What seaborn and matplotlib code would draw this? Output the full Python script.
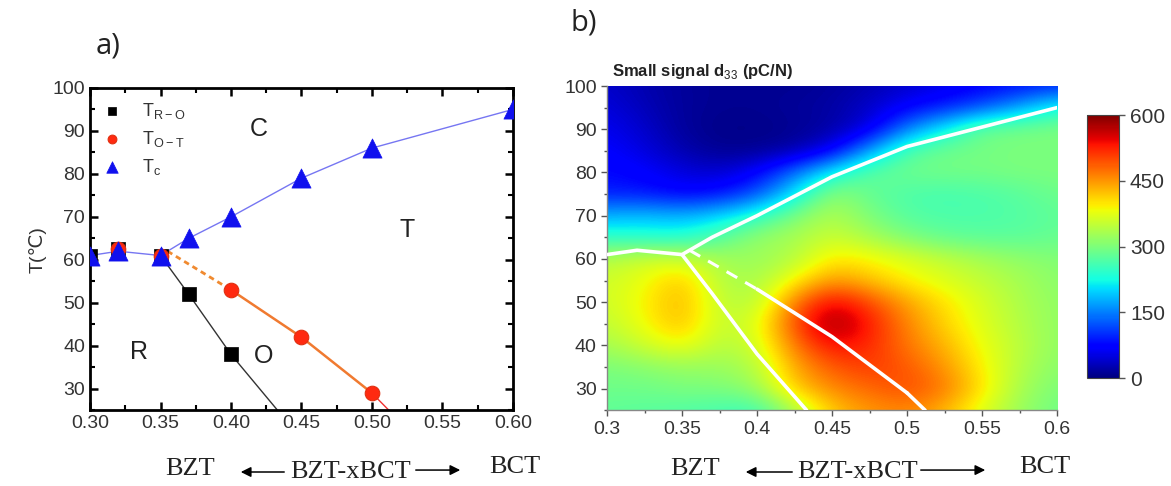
import numpy as np
import pandas as pd
import matplotlib
matplotlib.use("Agg")
import matplotlib.pyplot as plt
from matplotlib.ticker import MultipleLocator
import seaborn as sns

# ---------------- data: panel a (phase diagram) ----------------
x_tc = [0.30, 0.32, 0.35, 0.37, 0.40, 0.45, 0.50, 0.60]
t_tc = [61, 62, 61, 65, 70, 79, 86, 95]
x_ro = [0.30, 0.32, 0.35, 0.37, 0.40]
t_ro = [61, 62.5, 61, 52, 38]
x_ot = [0.32, 0.35, 0.40, 0.45, 0.50]
t_ot = [62.5, 61, 53, 42, 29]

# boundary lines
ro_line_x = [0.35, 0.37, 0.40, 0.433]
ro_line_t = [61, 52, 38, 25]
ot_dash_x = [0.355, 0.40]
ot_dash_t = [62, 53]
ot_solid_x = [0.40, 0.45, 0.50]
ot_solid_t = [53, 42, 29]
ot_tail_x = [0.50, 0.512]
ot_tail_t = [29, 25]

# ---------------- data: panel b (d33 map) ----------------
x_grid = [0.300, 0.325, 0.350, 0.375, 0.400, 0.425, 0.450, 0.475, 0.500, 0.525, 0.550, 0.575, 0.600]
t_grid = [25, 30, 35, 40, 45, 50, 55, 60, 65, 70, 75, 80, 85, 90, 95, 100]
d33_t25 = [280, 275, 270, 260, 250, 330, 420, 450, 460, 430, 370, 320, 290]
d33_t30 = [290, 290, 300, 300, 320, 420, 460, 480, 500, 470, 400, 330, 300]
d33_t35 = [300, 310, 320, 320, 340, 440, 490, 510, 490, 450, 390, 340, 310]
d33_t40 = [330, 360, 390, 340, 360, 470, 540, 520, 470, 430, 380, 345, 315]
d33_t45 = [350, 385, 430, 350, 370, 500, 595, 530, 460, 410, 370, 340, 315]
d33_t50 = [360, 390, 435, 350, 340, 470, 550, 500, 440, 400, 365, 335, 315]
d33_t55 = [360, 380, 425, 340, 330, 390, 450, 420, 390, 370, 350, 330, 310]
d33_t60 = [340, 360, 360, 330, 320, 340, 400, 390, 370, 350, 330, 315, 305]
d33_t65 = [240, 235, 230, 270, 320, 330, 360, 330, 300, 280, 275, 275, 285]
d33_t70 = [180, 190, 180, 200, 240, 300, 340, 300, 270, 265, 265, 270, 280]
d33_t75 = [90, 85, 70, 80, 120, 210, 320, 280, 265, 260, 265, 275, 290]
d33_t80 = [80, 70, 50, 40, 70, 140, 220, 280, 290, 295, 295, 300, 300]
d33_t85 = [70, 50, 25, 10, 10, 20, 60, 170, 270, 290, 295, 300, 300]
d33_t90 = [60, 40, 15, 5, 5, 10, 20, 50, 150, 220, 290, 295, 300]
d33_t95 = [50, 30, 15, 10, 10, 15, 20, 40, 70, 90, 120, 170, 230]
d33_t100 = [40, 25, 15, 10, 10, 10, 15, 25, 40, 55, 70, 80, 90]

cbar_ticks = [0, 150, 300, 450, 600]
xticks_a = [0.30, 0.35, 0.40, 0.45, 0.50, 0.55, 0.60]
xticklabels_b = ["0.3", "0.35", "0.4", "0.45", "0.5", "0.55", "0.6"]
yticks = [30, 40, 50, 60, 70, 80, 90, 100]

# ---------------- styling ----------------
sns.set_theme(style="ticks")
plt.rcParams["font.family"] = ["Liberation Sans", "DejaVu Sans"]
plt.rcParams["mathtext.fontset"] = "custom"
plt.rcParams["mathtext.rm"] = "Liberation Sans"

fig = plt.figure(figsize=(11.71, 4.86), dpi=100)

# ================= panel a =================
axa = fig.add_axes([0.0769, 0.156, 0.361, 0.663])

blue_line = "#7676f2"
sns.lineplot(x=x_tc, y=t_tc, ax=axa, color=blue_line, lw=1.0, sort=False, estimator=None, zorder=2)
sns.lineplot(x=ro_line_x, y=ro_line_t, ax=axa, color="#333333", lw=1.0, sort=False, estimator=None, zorder=2)
sns.lineplot(x=ot_dash_x, y=ot_dash_t, ax=axa, color="#f08a30", lw=2.0, sort=False, estimator=None,
             linestyle=(0, (2, 1.5)), zorder=2)
sns.lineplot(x=ot_solid_x, y=ot_solid_t, ax=axa, color="#f07a30", lw=1.8, sort=False, estimator=None, zorder=2)
sns.lineplot(x=ot_tail_x, y=ot_tail_t, ax=axa, color="#f03030", lw=1.0, sort=False, estimator=None, zorder=2)

sns.scatterplot(x=x_ro, y=t_ro, ax=axa, marker="s", s=110, color="black", edgecolor="black",
                linewidth=0.5, zorder=3, label=r"T$_{\rm R-O}$")
sns.scatterplot(x=x_ot, y=t_ot, ax=axa, marker="o", s=110, color="#ff2a10", edgecolor="#e03010",
                linewidth=0.8, zorder=4, label=r"T$_{\rm O-T}$")
sns.scatterplot(x=x_tc, y=t_tc, ax=axa, marker="^", s=190, color="#1010ee", edgecolor="#1010ee",
                linewidth=0.5, zorder=5, label=r"T$_{\rm c}$")

leg = axa.legend(loc="upper left", frameon=False, fontsize=13, handletextpad=1.2,
                 borderaxespad=0.3, labelspacing=0.45, markerscale=0.6, handlelength=1.0)
for t in leg.get_texts():
    t.set_color("#333333")

axa.set_xlim(0.30, 0.60)
axa.set_ylim(25, 100)
axa.set_xticks(xticks_a)
axa.set_xticklabels([f"{v:.2f}" for v in xticks_a])
axa.set_yticks(yticks)
axa.xaxis.set_minor_locator(MultipleLocator(0.025))
axa.yaxis.set_minor_locator(MultipleLocator(5))
axa.tick_params(which="both", direction="in", top=True, right=True, colors="black",
                labelcolor="#333333", labelsize=14)
axa.tick_params(which="major", length=6, width=1.8)
axa.tick_params(which="minor", length=3.5, width=1.5)
for sp in axa.spines.values():
    sp.set_linewidth(2.0)
    sp.set_color("black")
axa.set_xlabel("")
axa.set_ylabel("T(\u2103)", fontsize=14, color="#333333", labelpad=4)

for txt, xx, yy in [("C", 0.42, 90.5), ("T", 0.525, 67), ("R", 0.335, 38.5), ("O", 0.423, 37.5)]:
    axa.text(xx, yy, txt, fontsize=18, color="#222222", ha="center", va="center")

# ================= panel b =================
axb = fig.add_axes([0.5184, 0.156, 0.3843, 0.667])
Z = np.array([d33_t25, d33_t30, d33_t35, d33_t40, d33_t45, d33_t50, d33_t55, d33_t60,
              d33_t65, d33_t70, d33_t75, d33_t80, d33_t85, d33_t90, d33_t95, d33_t100], dtype=float)
dx = x_grid[1] - x_grid[0]
dt = t_grid[1] - t_grid[0]
img = axb.imshow(Z, origin="lower", cmap="jet", vmin=0, vmax=600, interpolation="bicubic",
                 extent=[x_grid[0] - dx / 2, x_grid[-1] + dx / 2, t_grid[0] - dt / 2, t_grid[-1] + dt / 2],
                 aspect="auto", zorder=1)

wkw = dict(ax=axb, color="white", lw=2.6, sort=False, estimator=None, zorder=3)
sns.lineplot(x=x_tc, y=t_tc, **wkw)
sns.lineplot(x=ro_line_x, y=ro_line_t, **wkw)
sns.lineplot(x=ot_solid_x, y=ot_solid_t, **wkw)
sns.lineplot(x=ot_tail_x, y=ot_tail_t, **wkw)
sns.lineplot(x=ot_dash_x, y=ot_dash_t, ax=axb, color="white", lw=2.2, sort=False, estimator=None,
             linestyle=(0, (4, 3)), zorder=3)

axb.set_xlim(0.30, 0.60)
axb.set_ylim(25, 100)
axb.set_xticks(xticks_a)
axb.set_xticklabels(xticklabels_b)
axb.set_yticks(yticks)
axb.xaxis.set_minor_locator(MultipleLocator(0.025))
axb.yaxis.set_minor_locator(MultipleLocator(5))
axb.tick_params(which="both", direction="out", colors="#555555", labelcolor="#333333", labelsize=14)
axb.tick_params(which="major", length=4, width=1.0)
axb.tick_params(which="minor", length=2.5, width=1.0)
for side in ["top", "right"]:
    axb.spines[side].set_visible(False)
for side in ["left", "bottom"]:
    axb.spines[side].set_color("#888888")
    axb.spines[side].set_linewidth(1.0)
axb.set_xlabel("")
axb.set_ylabel("")
axb.text(0.01, 1.015, r"Small signal d$_{\rm 33}$ (pC/N)", transform=axb.transAxes,
         fontsize=12, fontweight="bold", color="#222222", ha="left", va="bottom")

cax = fig.add_axes([0.928, 0.222, 0.028, 0.541])
cb = fig.colorbar(img, cax=cax, ticks=cbar_ticks)
cb.outline.set_linewidth(0.8)
cb.outline.set_edgecolor("#444444")
cax.tick_params(labelsize=15, length=4, width=1.0, colors="#555555", labelcolor="#333333")

# ================= panel labels & bottom captions =================
fig.text(0.082, 0.905, "a)", fontsize=21, color="#222222", ha="left", va="center",
         family=["Open Sans", "DejaVu Sans"])
fig.text(0.487, 0.953, "b)", fontsize=21, color="#222222", ha="left", va="center",
         family=["Open Sans", "DejaVu Sans"])

serif = ["Liberation Serif", "DejaVu Serif"]
ycap = 1 - 472 / 486

def caption(x_bzt, x_l0, x_l1, x_mid, x_r0, x_r1, x_bct):
    fig.text(x_bzt / 1171, ycap + 0.006, "BZT", fontsize=19, family=serif, ha="center", va="center", color="#222222")
    fig.text(x_mid / 1171, ycap, "BZT-xBCT", fontsize=19, family=serif, ha="center", va="center", color="#222222")
    fig.text(x_bct / 1171, ycap + 0.01, "BCT", fontsize=19, family=serif, ha="center", va="center", color="#222222")
    fig.add_artist(matplotlib.patches.FancyArrowPatch(
        (x_l1 / 1171, ycap), (x_l0 / 1171, ycap), transform=fig.transFigure,
        arrowstyle="-|>,head_length=6,head_width=3", color="black", lw=1.1))
    fig.add_artist(matplotlib.patches.FancyArrowPatch(
        (x_r0 / 1171, ycap + 0.004), (x_r1 / 1171, ycap + 0.004), transform=fig.transFigure,
        arrowstyle="-|>,head_length=6,head_width=3", color="black", lw=1.1))

caption(190, 238, 287, 351, 413, 463, 515)
caption(695, 743, 795, 858, 918, 988, 1045)

fig.savefig("out.png", dpi=100)
